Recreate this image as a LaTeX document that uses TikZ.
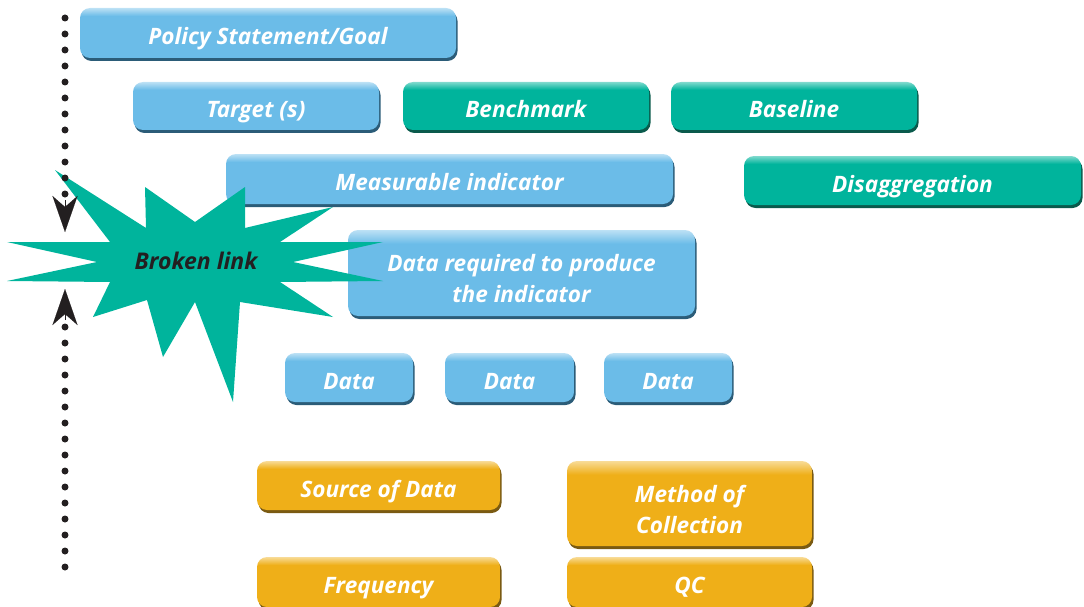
\documentclass[tikz,border=0pt]{standalone}
\usepackage{fontspec}
\setmainfont{Open Sans}
\usetikzlibrary{shadows,arrows.meta}
\definecolor{cblue}{HTML}{6BBCE8}
\definecolor{cblueS}{HTML}{2B5C78}
\definecolor{cteal}{HTML}{00B49C}
\definecolor{ctealS}{HTML}{0A5A4C}
\definecolor{corange}{HTML}{EFAF18}
\definecolor{corangeS}{HTML}{7A5A12}
\definecolor{cdark}{HTML}{231F20}
\pgfdeclareverticalshading{blueshade}{100bp}{color(0bp)=(cblue); color(25bp)=(cblue); color(67bp)=(cblue); color(75bp)=(cblue!45!white); color(100bp)=(cblue!45!white)}
\pgfdeclareverticalshading{tealshade}{100bp}{color(0bp)=(cteal); color(25bp)=(cteal); color(67bp)=(cteal); color(75bp)=(cteal!50!white); color(100bp)=(cteal!50!white)}
\pgfdeclareverticalshading{orangeshade}{100bp}{color(0bp)=(corange); color(25bp)=(corange); color(67bp)=(corange); color(75bp)=(corange!45!white); color(100bp)=(corange!45!white)}
\tikzset{
  boxbase/.style={rounded corners=10pt, inner sep=0pt, align=center,
    text=white, font=\fontsize{22.6}{31}\selectfont\bfseries\itshape},
  oneline/.style={text height=28pt, text depth=5pt},
  bluebox/.style={boxbase, shading=blueshade,
    drop shadow={shadow xshift=1.5pt, shadow yshift=-3pt, fill=cblueS, opacity=1}},
  tealbox/.style={boxbase, shading=tealshade,
    drop shadow={shadow xshift=1.5pt, shadow yshift=-3pt, fill=ctealS, opacity=1}},
  orangebox/.style={boxbase, shading=orangeshade,
    drop shadow={shadow xshift=1.5pt, shadow yshift=-3pt, fill=corangeS, opacity=1}},
  dotline/.style={line width=7pt, line cap=round, dash pattern=on 0pt off 16pt, cdark},
  tipstyle/.style={-{Stealth[length=36pt,width=25pt,inset=11pt]}}
}
\newcommand{\mybox}[7]{%
  \node[#6, minimum width=#4-#2, minimum height=#5-#3] (#1) at ({(#2+#4)/2},{(#3+#5)/2}) {#7};}
\newcommand{\topstrut}{\rule{0pt}{29pt}}
\begin{document}
\begin{tikzpicture}[x=1pt,y=-1pt]
\useasboundingbox (0,0) rectangle (1084,607);
\mybox{policy}{80}{8}{456}{58}{bluebox,oneline}{Policy Statement/Goal}
\mybox{target}{133}{82}{379}{130}{bluebox,oneline}{Target (s)}
\mybox{bench}{403}{82}{649}{130}{tealbox,oneline}{Benchmark}
\mybox{base}{671}{82}{917}{130}{tealbox,oneline}{Baseline}
\mybox{meas}{226}{154}{673}{204}{bluebox,oneline}{Measurable indicator}
\mybox{disag}{744}{156}{1081}{205}{tealbox,oneline}{Disaggregation}
\mybox{req}{348}{230}{695}{316}{bluebox}{\topstrut Data required to produce\\the indicator}
\mybox{data1}{285}{353}{413}{402}{bluebox,oneline}{Data}
\mybox{data2}{445}{353}{574}{402}{bluebox,oneline}{Data}
\mybox{data3}{604}{353}{732}{402}{bluebox,oneline}{Data}
\mybox{source}{257}{461}{500}{510}{orangebox,oneline}{Source of Data}
\mybox{method}{567}{461}{812}{546}{orangebox}{\topstrut Method of\\Collection}
\mybox{freq}{257}{557}{500}{607}{orangebox,oneline}{Frequency}
\mybox{qc}{567}{557}{812}{607}{orangebox,oneline}{QC}
% starburst
\fill[cteal] (55,170) -- (146,228) -- (145,187) -- (195,222) -- (245,187) -- (245,228)
  -- (333,207) -- (280,242) -- (383,242) -- (293,262) -- (383,281) -- (280,282)
  -- (333,317) -- (240,302) -- (233,402) -- (195,302) -- (163,357) -- (147,300)
  -- (93,317) -- (110,282) -- (7,281) -- (97,262) -- (7,242) -- (110,242) -- cycle;
\node[text=cdark, font=\fontsize{23}{24}\selectfont\bfseries\itshape, text height=17pt, text depth=1pt] (broken) at (196,261) {Broken link};
% dotted line with arrows
\coordinate (top) at (65,18);
\coordinate (tipdown) at (65,232);
\coordinate (tipup) at (65,289);
\coordinate (bottom) at (65,567);
\draw[dotline] (top) -- (65,214);
\draw[dotline] (bottom) -- (65,308);
\draw[tipstyle, cdark, line width=0.1pt] (65,200) -- (tipdown);
\draw[tipstyle, cdark, line width=0.1pt] (65,320) -- (tipup);
\end{tikzpicture}
\end{document}
